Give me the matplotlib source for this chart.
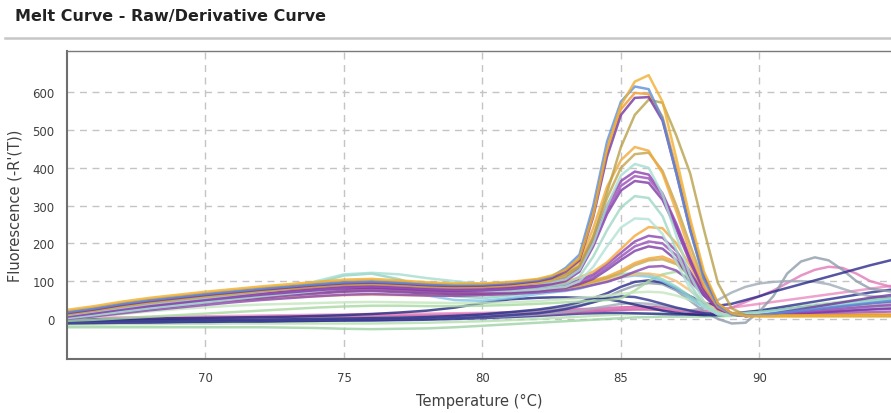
import matplotlib
matplotlib.use("Agg")
import matplotlib.pyplot as plt
from matplotlib.lines import Line2D

# ---------------- data ----------------
temp_c = [65, 66, 67, 68, 69, 70, 71, 72, 73, 74, 75, 76, 77, 78, 79, 80, 81, 82,
          82.5, 83, 83.5, 84, 84.5, 85, 85.5, 86, 86.5, 87, 87.5, 88, 88.5, 89, 89.5,
          90, 90.5, 91, 91.5, 92, 92.5, 93, 93.5, 94, 95]

# each curve: 18 baseline values (65-82) + 15 peak values (82.5-89.5) + 10 tail values (90-95)
green_2 = [-22, -22, -22, -22, -22, -22, -22, -22, -23, -24, -26, -27, -26, -25, -22, -18, -14, -10,
           -8, -6, -4, -2, 0, 2, 4, 5, 6, 6, 6, 6, 7, 8, 10,
           12, 15, 18, 21, 24, 27, 30, 33, 36, 40]
green_3 = [-15, -15, -14, -14, -13, -13, -12, -12, -12, -12, -12, -12, -11, -10, -8, -6, -3, 0,
           2, 4, 6, 8, 10, 12, 13, 14, 14, 14, 13, 12, 12, 14, 18,
           22, 26, 30, 34, 38, 42, 46, 50, 54, 60]
navy_4 = [-12, -11, -10, -9, -8, -7, -6, -6, -5, -5, -4, -4, -3, -2, 0, 2, 5, 8,
          10, 12, 14, 15, 16, 16, 15, 14, 13, 12, 12, 12, 13, 15, 18,
          22, 28, 34, 40, 46, 52, 58, 64, 70, 80]
magenta_1 = [-2, -1, 0, 1, 2, 2, 3, 3, 4, 4, 5, 6, 7, 8, 10, 12, 15, 18,
             20, 22, 24, 26, 28, 30, 32, 32, 30, 26, 20, 15, 12, 12, 14,
             16, 19, 22, 25, 28, 31, 34, 37, 40, 45]
magenta_2 = [-6, -6, -5, -5, -4, -4, -3, -3, -2, -2, -1, 0, 1, 2, 4, 6, 9, 12,
             14, 16, 18, 20, 22, 24, 25, 25, 24, 22, 19, 16, 14, 14, 15,
             17, 19, 21, 23, 25, 27, 29, 31, 33, 36]
pink_2 = [2, 3, 4, 5, 6, 7, 8, 9, 10, 11, 12, 13, 14, 14, 15, 16, 18, 20,
          22, 24, 26, 28, 29, 30, 30, 29, 27, 24, 22, 22, 25, 30, 35,
          40, 45, 50, 55, 60, 65, 70, 75, 80, 90]
pink_1 = [-2, -2, -1, 0, 1, 2, 3, 4, 5, 6, 7, 8, 9, 10, 12, 14, 17, 20,
          22, 24, 25, 26, 27, 28, 28, 27, 26, 24, 22, 20, 22, 30, 45,
          60, 75, 95, 115, 130, 138, 135, 120, 100, 80]
gray_1 = [-8, -7, -6, -5, -4, -3, -2, -1, 0, 1, 2, 3, 4, 6, 8, 12, 16, 22,
          26, 30, 36, 45, 58, 75, 88, 95, 92, 75, 48, 20, 0, -12, -10,
          20, 60, 120, 152, 163, 155, 130, 100, 80, 70]
gray_2 = [-10, -9, -8, -7, -6, -5, -4, -3, -2, -1, 0, 1, 2, 3, 4, 5, 8, 12,
          15, 18, 22, 28, 34, 40, 42, 40, 35, 28, 22, 30, 50, 70, 85,
          94, 98, 100, 100, 98, 92, 80, 68, 60, 55]
navy_1 = [-5, -5, -4, -4, -3, -3, -2, -2, -1, 0, 1, 2, 3, 5, 8, 12, 18, 25,
          30, 36, 44, 55, 68, 85, 98, 102, 96, 80, 60, 42, 35, 40, 50,
          60, 72, 82, 92, 102, 112, 122, 132, 142, 160]
navy_2 = [-2, -1, 0, 1, 2, 3, 4, 5, 6, 8, 10, 13, 17, 22, 30, 42, 52, 56,
          57, 57, 56, 55, 52, 46, 38, 30, 22, 16, 12, 10, 10, 12, 15,
          18, 22, 26, 30, 34, 38, 42, 46, 50, 58]
navy_3 = [-10, -10, -9, -9, -8, -8, -7, -7, -6, -5, -4, -3, -2, 0, 2, 5, 10, 15,
          20, 26, 34, 44, 54, 60, 58, 50, 40, 30, 22, 15, 12, 12, 14,
          16, 20, 24, 28, 32, 36, 40, 44, 48, 55]
green_1 = [-5, -2, 2, 6, 10, 14, 18, 22, 26, 30, 33, 35, 35, 34, 34, 35, 37, 40,
           42, 44, 46, 48, 50, 54, 75, 100, 118, 125, 108, 70, 32, 14, 12,
           14, 18, 22, 26, 30, 34, 38, 42, 46, 52]
green_4 = [0, 6, 13, 20, 26, 31, 35, 38, 40, 42, 44, 45, 44, 43, 42, 42, 44, 47,
           50, 52, 55, 58, 62, 66, 70, 72, 70, 62, 50, 35, 22, 16, 16,
           18, 22, 26, 30, 34, 38, 42, 46, 50, 56]
light_blue = [5, 12, 22, 32, 42, 52, 62, 72, 80, 88, 92, 90, 78, 62, 50, 48, 55, 66,
              70, 74, 80, 90, 100, 110, 115, 112, 100, 80, 55, 30, 15, 12, 14,
              16, 20, 24, 28, 32, 36, 40, 44, 48, 54]
teal_4 = [0, 8, 18, 28, 38, 48, 58, 68, 78, 95, 115, 120, 105, 80, 60, 55, 62, 72,
          78, 82, 90, 100, 110, 118, 122, 118, 105, 85, 60, 35, 18, 14, 15,
          18, 22, 26, 30, 34, 38, 42, 46, 50, 55]
orange_pale = [8, 15, 23, 31, 38, 44, 49, 53, 57, 60, 63, 64, 63, 62, 62, 64, 68, 74,
               78, 82, 88, 96, 104, 112, 118, 120, 115, 100, 75, 45, 22, 12, 10,
               10, 10, 10, 10, 10, 10, 10, 10, 10, 10]
purple_low4 = [0, 7, 15, 23, 30, 37, 44, 50, 55, 60, 64, 66, 64, 62, 61, 63, 66, 70,
               73, 76, 82, 90, 98, 110, 125, 138, 140, 128, 100, 62, 30, 14, 10,
               12, 14, 16, 18, 20, 22, 24, 26, 28, 32]
olive_low = [4, 12, 21, 30, 38, 46, 53, 59, 65, 70, 74, 76, 73, 70, 68, 69, 72, 76,
             79, 82, 88, 98, 108, 122, 142, 155, 158, 145, 115, 72, 35, 15, 10,
             8, 8, 8, 8, 8, 8, 8, 8, 8, 8]
orange_low2 = [6, 14, 24, 33, 41, 49, 56, 62, 68, 73, 78, 80, 77, 74, 72, 73, 76, 80,
               83, 86, 92, 102, 112, 128, 148, 160, 165, 150, 118, 72, 35, 15, 10,
               10, 10, 10, 10, 10, 10, 10, 10, 10, 10]
purple_low3 = [3, 10, 19, 27, 35, 43, 50, 56, 62, 67, 72, 74, 71, 68, 66, 67, 70, 74,
               78, 82, 92, 106, 130, 156, 180, 192, 186, 156, 110, 62, 26, 12, 8,
               10, 10, 10, 10, 10, 10, 10, 10, 10, 10]
purple_low2 = [5, 13, 22, 31, 39, 47, 54, 61, 67, 72, 77, 79, 76, 73, 71, 72, 75, 79,
               83, 87, 97, 112, 137, 165, 192, 205, 200, 168, 118, 66, 28, 12, 8,
               10, 11, 12, 13, 14, 15, 16, 17, 18, 20]
purple_low1 = [8, 16, 26, 35, 43, 51, 58, 65, 71, 77, 82, 84, 81, 78, 76, 77, 80, 84,
               88, 92, 103, 118, 145, 175, 205, 220, 215, 180, 125, 70, 30, 12, 8,
               10, 12, 14, 16, 18, 20, 22, 24, 26, 30]
orange_low1 = [10, 19, 30, 40, 48, 56, 63, 70, 76, 82, 87, 89, 86, 82, 80, 81, 84, 88,
               92, 98, 110, 125, 150, 185, 220, 243, 240, 200, 140, 75, 30, 12, 8,
               8, 8, 8, 8, 8, 8, 8, 8, 8, 8]
teal_3 = [2, 10, 19, 28, 36, 44, 52, 60, 67, 74, 82, 88, 86, 82, 77, 74, 74, 78,
          82, 85, 100, 138, 192, 242, 266, 264, 225, 152, 78, 32, 12, 10, 12,
          14, 16, 18, 20, 22, 24, 26, 28, 30, 34]
teal_2 = [4, 12, 22, 31, 39, 47, 55, 63, 70, 78, 88, 96, 94, 90, 84, 80, 80, 84,
          88, 92, 112, 165, 235, 295, 325, 320, 272, 182, 92, 35, 12, 10, 12,
          14, 17, 20, 23, 26, 29, 32, 35, 38, 42]
purple_mid3 = [6, 15, 25, 34, 42, 50, 57, 64, 70, 76, 81, 83, 80, 76, 74, 75, 79, 86,
               92, 100, 125, 192, 278, 340, 365, 360, 315, 238, 150, 75, 28, 12, 8,
               9, 11, 13, 15, 17, 19, 21, 23, 25, 28]
purple_mid2 = [8, 17, 27, 37, 45, 53, 60, 67, 73, 79, 84, 86, 83, 79, 77, 78, 82, 89,
               96, 104, 130, 200, 288, 352, 378, 372, 325, 245, 155, 78, 30, 12, 8,
               10, 12, 15, 18, 21, 24, 27, 30, 33, 38]
purple_mid1 = [10, 19, 30, 40, 48, 56, 63, 70, 76, 82, 87, 89, 86, 82, 80, 81, 85, 92,
               100, 108, 135, 210, 300, 365, 390, 382, 332, 252, 160, 80, 30, 12, 8,
               10, 14, 18, 22, 26, 30, 34, 38, 42, 48]
teal_1 = [10, 20, 30, 40, 48, 56, 64, 72, 80, 100, 118, 122, 118, 108, 100, 92, 90, 94,
          98, 105, 130, 200, 300, 380, 410, 400, 330, 220, 115, 45, 15, 10, 12,
          14, 18, 22, 26, 30, 34, 38, 42, 46, 52]
olive_mid = [12, 22, 33, 43, 51, 59, 66, 73, 79, 85, 90, 92, 89, 85, 83, 84, 88, 95,
             102, 112, 140, 220, 320, 400, 436, 440, 392, 300, 195, 95, 38, 14, 8,
             8, 8, 8, 8, 8, 8, 8, 8, 8, 8]
orange_mid = [14, 24, 36, 46, 54, 62, 69, 76, 82, 88, 93, 95, 92, 88, 86, 87, 90, 97,
              104, 118, 150, 240, 350, 420, 455, 445, 385, 285, 175, 85, 32, 12, 8,
              8, 8, 8, 8, 9, 9, 9, 10, 10, 10]
olive_big = [16, 26, 38, 48, 56, 64, 71, 78, 84, 90, 95, 97, 94, 90, 88, 89, 93, 100,
             106, 118, 140, 215, 335, 455, 540, 580, 572, 485, 385, 235, 95, 28, 10,
             8, 8, 8, 8, 8, 8, 8, 8, 8, 8]
orange_big = [20, 30, 42, 52, 60, 68, 75, 82, 88, 94, 100, 102, 98, 94, 91, 92, 96, 104,
              112, 130, 160, 285, 450, 555, 598, 595, 535, 400, 250, 115, 40, 14, 8,
              8, 8, 9, 9, 10, 10, 11, 11, 12, 12]
purple_big = [15, 25, 37, 47, 55, 63, 70, 77, 83, 89, 94, 96, 93, 89, 87, 88, 92, 100,
              108, 125, 155, 270, 430, 540, 585, 587, 525, 385, 235, 110, 40, 14, 8,
              10, 14, 20, 26, 32, 38, 44, 50, 56, 66]
blue_big = [18, 28, 40, 50, 58, 66, 73, 80, 86, 92, 97, 99, 96, 92, 90, 91, 95, 103,
            112, 135, 170, 300, 470, 575, 615, 608, 530, 385, 235, 105, 35, 12, 8,
            10, 14, 18, 22, 26, 30, 34, 38, 42, 50]
gold_top = [24, 34, 46, 56, 64, 72, 79, 86, 92, 98, 104, 106, 102, 97, 94, 94, 98, 106,
            115, 130, 160, 275, 450, 565, 628, 645, 575, 425, 265, 125, 42, 15, 8,
            8, 8, 8, 8, 8, 8, 8, 8, 8, 8]

# drawing order (back to front) and colours
curves = [
    (green_2, "#9CD3A4"), (green_3, "#B4DFAE"), (navy_4, "#2B2F8E"),
    (magenta_1, "#B23E92"), (magenta_2, "#C24CA2"), (pink_2, "#E98CC2"),
    (pink_1, "#E27AB8"), (gray_1, "#8E9CAA"), (gray_2, "#A0ABB8"),
    (navy_1, "#2A2A8A"), (navy_2, "#22287F"), (navy_3, "#30358F"),
    (green_1, "#A8D9A0"), (green_4, "#C4E6BE"), (light_blue, "#7EC3E6"),
    (teal_4, "#8FD3C2"), (orange_pale, "#F5BD72"), (purple_low4, "#8A48AE"),
    (olive_low, "#C8A850"), (orange_low2, "#F2A534"), (purple_low3, "#7D3CA6"),
    (purple_low2, "#9650B8"), (purple_low1, "#8C44B0"), (orange_low1, "#F4A83A"),
    (teal_3, "#B2E2D6"), (teal_2, "#9FD8C6"), (purple_mid3, "#7E3AA8"),
    (purple_mid2, "#9A4DB8"), (purple_mid1, "#8E3FB0"), (teal_1, "#A6DDD0"),
    (olive_mid, "#C2A44E"), (orange_mid, "#F2A93B"), (olive_big, "#B8A04A"),
    (orange_big, "#F29A2E"), (purple_big, "#7336A0"), (blue_big, "#5C8FDB"),
    (gold_top, "#F0B030"),
]

x_ticks = [70, 75, 80, 85, 90]
y_ticks = [0, 100, 200, 300, 400, 500, 600]

# ---------------- figure ----------------
fig = plt.figure(figsize=(8.91, 4.14), dpi=100)
ax = fig.add_axes([67 / 891, 54 / 414, 1 - 67 / 891, (360 - 52) / 414])

for vals, col in curves:
    ax.plot(temp_c, vals, color=col, lw=1.8, alpha=0.8, solid_joinstyle="round")

ax.set_xlim(65, 94.75)
ax.set_ylim(-106, 709)
ax.set_xticks(x_ticks)
ax.set_yticks(y_ticks)
ax.tick_params(length=0, labelsize=8.5, colors="#404040", pad=9)
ax.grid(True, color="#C4C4C4", linestyle=(0, (5, 4)), linewidth=1.0)
ax.set_axisbelow(True)

for side in ("left", "bottom"):
    ax.spines[side].set_color("#6E6E6E")
    ax.spines[side].set_linewidth(1.5)
ax.spines["top"].set_color("#7A7A7A")
ax.spines["top"].set_linewidth(1.0)
ax.spines["right"].set_visible(False)

ax.set_xlabel("Temperature (°C)", fontsize=10.5, color="#404040", labelpad=6)
ax.set_ylabel("Fluorescence (-R'(T))", fontsize=10.5, color="#404040", labelpad=7)

fig.text(15 / 891, 1 - 16 / 414, "Melt Curve - Raw/Derivative Curve",
         fontsize=11.5, fontweight="bold", color="#222222", va="center", ha="left")
fig.add_artist(Line2D([5 / 891, 1.0], [1 - 38.5 / 414, 1 - 38.5 / 414],
                      color="#C6C6C6", lw=1.8, transform=fig.transFigure))

fig.savefig("out.png", dpi=100, facecolor="white")
